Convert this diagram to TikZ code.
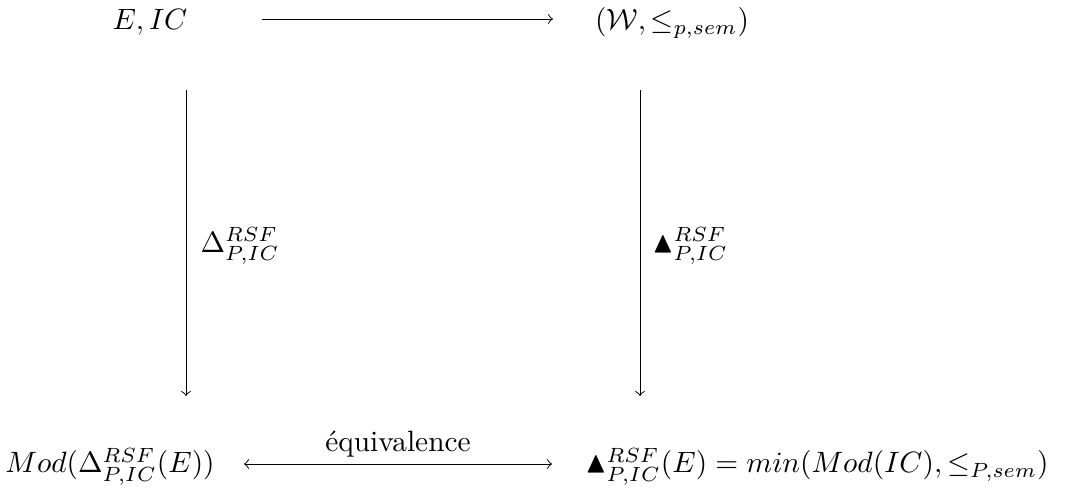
\documentclass[tikz,border=0pt]{standalone}
\usepackage{amsmath,amssymb}
\begin{document}
\begin{tikzpicture}[x=0.34pt,y=-0.34pt,
  lbl/.style={anchor=base,inner sep=0pt},
  arr/.style={->,line width=0.33pt}]
\useasboundingbox (0,0) rectangle (1067,492);
\node[lbl] (A) at (150,30) {$E,IC$};
\node[lbl] (B) at (672,30) {$(\mathcal{W},\leq_{p,sem})$};
\node[lbl] (C) at (110,473) {$Mod(\Delta^{RSF}_{P,IC}(E))$};
\node[lbl] (D) at (817,473) {$\blacktriangle^{RSF}_{P,IC}(E)=min(Mod(IC),\leq_{P,sem})$};
\coordinate (a1) at (262,19);
\coordinate (a2) at (553,19);
\coordinate (l1) at (186,90);
\coordinate (l2) at (186,396);
\coordinate (r1) at (640,90);
\coordinate (r2) at (640,396);
\coordinate (b1) at (244,464);
\coordinate (b2) at (552,464);
\draw[arr] (a1) -- (a2);
\draw[arr] (l1) -- node[anchor=west,inner sep=0pt,xshift=4.8pt,yshift=-1pt] (LL) {$\Delta^{RSF}_{P,IC}$} (l2);
\draw[arr] (r1) -- node[anchor=west,inner sep=0pt,xshift=4pt,yshift=-1pt] (RL) {$\blacktriangle^{RSF}_{P,IC}$} (r2);
\draw[<->,line width=0.33pt] (b1) -- (b2);
\node[lbl] (EQ) at (398,452) {\'equivalence};
\end{tikzpicture}
\end{document}
